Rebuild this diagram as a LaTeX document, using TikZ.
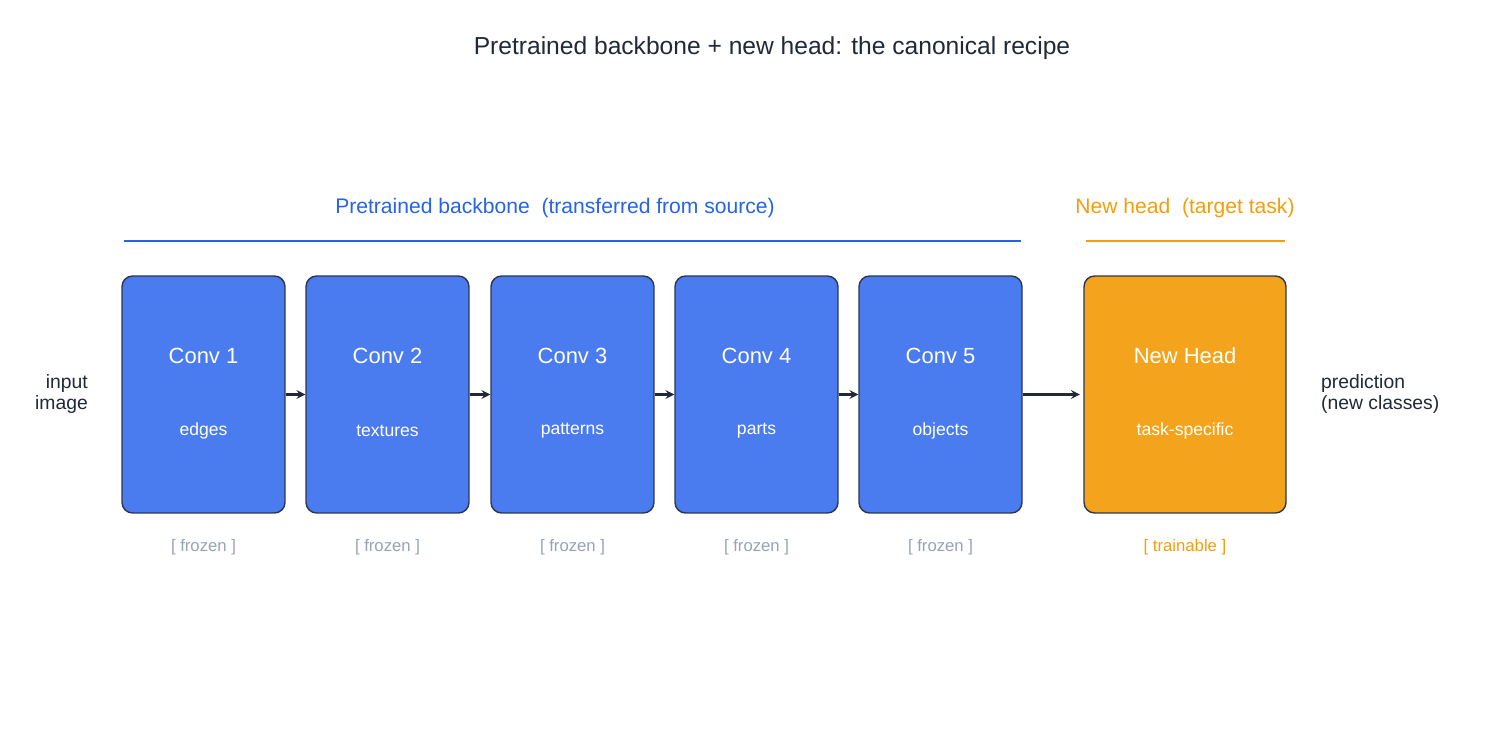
\documentclass[tikz,border=0pt]{standalone}
\usepackage{fontspec}
\setmainfont{Liberation Sans}
\usetikzlibrary{positioning}
\definecolor{ink}{HTML}{1F2937}
\definecolor{convblue}{HTML}{4A7CF0}
\definecolor{lineblue}{HTML}{2563EB}
\definecolor{headorange}{HTML}{F4A41C}
\definecolor{textorange}{HTML}{F59E0B}
\definecolor{frozengray}{HTML}{94A3B8}
\definecolor{edge}{HTML}{2B3650}
\tikzset{
  layer/.style={draw=edge,thick,rounded corners=6pt,fill=convblue,text=white,minimum width=3.26cm,minimum height=4.74cm},
  flow/.style={-stealth,very thick,draw=ink},
  tag/.style={font=\fontsize{9.5}{11}\selectfont,text=frozengray}
}
\begin{document}
\begin{tikzpicture}[x=0.02cm,y=-0.02cm]
\useasboundingbox (0,0) rectangle (1506,750);
\node (title) at (772,48) [text=ink,font=\fontsize{14}{16}\selectfont] {Pretrained backbone + new head: the canonical recipe};

%backbone layers:
\node (conv1) at (203.5,394.5) [layer] {};
\node (conv2) at (387.5,394.5) [layer] {};
\node (conv3) at (572.5,394.5) [layer] {};
\node (conv4) at (756.5,394.5) [layer] {};
\node (conv5) at (940.5,394.5) [layer] {};
\node (head) at (1185,394.5) [layer,fill=headorange,minimum width=4.04cm] {};

\foreach \n/\name/\what in {1/Conv 1/edges,2/Conv 2/textures,3/Conv 3/patterns,4/Conv 4/parts,5/Conv 5/objects}{
  \node (name\n) at (conv\n |- 0,356) [text=white,font=\fontsize{12.5}{14}\selectfont] {\name};
  \node (what\n) at (conv\n |- 0,431) [text=white,font=\fontsize{10}{12}\selectfont] {\what};
  \node (tag\n) at (conv\n |- 0,547) [tag] {[ frozen ]};
}
\node (namehead) at (head |- 0,356) [text=white,font=\fontsize{12.5}{14}\selectfont] {New Head};
\node (whathead) at (head |- 0,431) [text=white,font=\fontsize{10}{12}\selectfont] {task-specific};
\node (taghead) at (head |- 0,547) [tag,text=textorange] {[ trainable ]};

\draw [flow] (conv1.east) -- (conv2.west);
\draw [flow] (conv2.east) -- (conv3.west);
\draw [flow] (conv3.east) -- (conv4.west);
\draw [flow] (conv4.east) -- (conv5.west);
\draw [flow,shorten >=2pt] (conv5.east) -- (head.west);

\node (input) at (94,394) [anchor=east,align=right,text=ink,font=\fontsize{11}{12.5}\selectfont] {input\\image};
\node (output) at (1315,394) [anchor=west,align=left,text=ink,font=\fontsize{11}{12.5}\selectfont] {prediction\\(new classes)};

%group labels:
\node (backbone) at (555,208) [text=lineblue,font=\fontsize{12}{14}\selectfont] {Pretrained backbone\ \ (transferred from source)};
\coordinate (bbl) at (124,241);
\coordinate (bbr) at (1021,241);
\draw [lineblue,line width=1.3pt] (bbl) -- (bbr);
\node (newhead) at (1185,208) [text=textorange,font=\fontsize{12}{14}\selectfont] {New head\ \ (target task)};
\coordinate (nhl) at (1086,241);
\coordinate (nhr) at (1285,241);
\draw [textorange,line width=1.3pt] (nhl) -- (nhr);
\end{tikzpicture}
\end{document}
